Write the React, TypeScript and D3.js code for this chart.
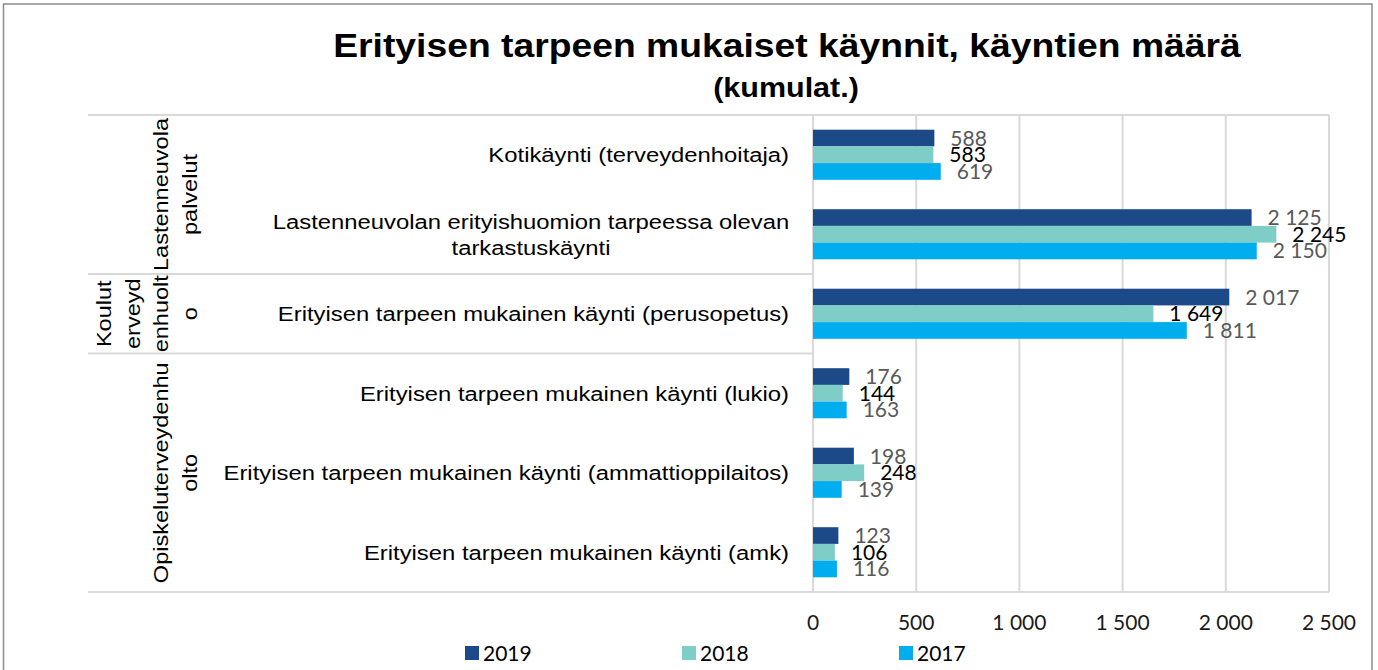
import React from "react";
import * as d3 from "d3";

// ---- data ----
const categories: string[] = [
  "Kotikäynti (terveydenhoitaja)",
  "Lastenneuvolan erityishuomion tarpeessa olevan\ntarkastuskäynti",
  "Erityisen tarpeen mukainen käynti (perusopetus)",
  "Erityisen tarpeen mukainen käynti (lukio)",
  "Erityisen tarpeen mukainen käynti (ammattioppilaitos)",
  "Erityisen tarpeen mukainen käynti (amk)",
];
const groupNames: string[][] = [
  ["Lastenneuvola", "palvelut"],
  ["Koulut", "erveyd", "enhuolt", "o"],
  ["Opiskeluterveydenhu", "olto"],
];
const groupSpans: number[][] = [
  [0, 1],
  [2, 2],
  [3, 5],
];
const seriesNames: string[] = ["2019", "2018", "2017"];
const v2019: number[] = [588, 2125, 2017, 176, 198, 123];
const v2018: number[] = [583, 2245, 1649, 144, 248, 106];
const v2017: number[] = [619, 2150, 1811, 163, 139, 116];
const seriesValues: number[][] = [v2019, v2018, v2017];
const xTicks: number[] = [0, 500, 1000, 1500, 2000, 2500];
const titleLine1 = "Erityisen tarpeen mukaiset käynnit, käyntien määrä";
const titleLine2 = "(kumulat.)";

// ---- style ----
const colors = ["#1C4A89", "#7FCDC7", "#00AEEF"];
const labelColors = ["#595959", "#000000", "#595959"];
const ARIAL = "'Liberation Sans', Arial, sans-serif";
const CAL = "Lato, 'Open Sans', sans-serif";
const STRETCH = 1.135;
const GRID = "#D9D9D9";

const W = 1378;
const H = 670;
const plotLeft = 813;
const plotRight = 1329;
const plotTop = 115;
const plotBottom = 592;
const tableLeft = 88;

const fmt = d3.formatLocale({
  decimal: ",",
  thousands: " ",
  grouping: [3],
  currency: ["", " €"],
}).format(",d");

export default function App() {
  const x = d3.scaleLinear().domain([0, 2500]).range([plotLeft, plotRight]);
  const y = d3
    .scaleBand<number>()
    .domain(categories.map((_, i) => i))
    .range([plotTop, plotBottom])
    .paddingInner(0.37)
    .paddingOuter(0.185);
  const step = y.step();
  const yRow = (i: number) => plotTop + step * i;
  const ySeries = d3
    .scaleBand<number>()
    .domain(seriesNames.map((_, i) => i))
    .range([0, y.bandwidth()]);

  return (
    <svg
      width={W}
      height={H}
      style={{ position: "absolute", left: 0, top: 0, background: "#fff" }}
    >
      <rect x={0} y={0} width={W} height={H} fill="#fff" />
      {/* outer border */}
      <rect x={3.5} y={4} width={1368.5} height={720} fill="none" stroke="#8c8c8c" strokeWidth={1.5} />

      {/* title */}
      <text
        transform={`translate(787,57) scale(1.13,1)`}
        textAnchor="middle"
        fontFamily={ARIAL}
        fontWeight="bold"
        fontSize={33}
        fill="#000"
      >
        {titleLine1}
      </text>
      <text
        transform={`translate(786,97) scale(1.13,1)`}
        textAnchor="middle"
        fontFamily={ARIAL}
        fontWeight="bold"
        fontSize={27}
        fill="#000"
      >
        {titleLine2}
      </text>

      {/* gridlines */}
      {xTicks.map((t) => (
        <line key={"g" + t} x1={x(t)} x2={x(t)} y1={plotTop} y2={plotBottom} stroke={GRID} strokeWidth={2} />
      ))}
      {/* plot border top/bottom and table separators */}
      <line x1={tableLeft} x2={plotRight} y1={plotTop} y2={plotTop} stroke={GRID} strokeWidth={2} />
      <line x1={tableLeft} x2={plotRight} y1={plotBottom} y2={plotBottom} stroke={GRID} strokeWidth={2} />
      {groupSpans.slice(1).map((g, i) => (
        <line key={"sep" + i} x1={tableLeft} x2={plotLeft} y1={yRow(g[0])} y2={yRow(g[0])} stroke={GRID} strokeWidth={2} />
      ))}

      {/* bars */}
      {seriesValues.map((vals, s) =>
        vals.map((v, i) => (
          <rect
            key={`b${s}-${i}`}
            x={x(0)}
            y={(y(i) as number) + (ySeries(s) as number)}
            width={x(v) - x(0)}
            height={ySeries.bandwidth()}
            fill={colors[s]}
          />
        ))
      )}
      {/* value labels */}
      {seriesValues.map((vals, s) =>
        vals.map((v, i) => (
          <text
            key={`l${s}-${i}`}
            x={x(v) + 16}
            y={(y(i) as number) + (ySeries(s) as number) + ySeries.bandwidth() / 2 + 7.5}
            fontFamily={CAL}
            fontSize={21}
            fill={labelColors[s]}
          >
            {fmt(v)}
          </text>
        ))
      )}

      {/* category labels */}
      {categories.map((c, i) => {
        const lines = c.split("\n");
        const cy = yRow(i) + step / 2;
        const lh = 26;
        return lines.map((ln, k) => {
          const by = cy + (k - (lines.length - 1) / 2) * lh + 7.5;
          if (lines.length > 1) {
            return (
              <text
                key={`c${i}-${k}`}
                transform={`translate(531,${by}) scale(${STRETCH},1)`}
                textAnchor="middle"
                fontFamily={ARIAL}
                fontSize={21}
                fill="#000"
              >
                {ln}
              </text>
            );
          }
          return (
            <text
              key={`c${i}-${k}`}
              transform={`translate(789,${by}) scale(${STRETCH},1)`}
              textAnchor="end"
              fontFamily={ARIAL}
              fontSize={21}
              fill="#000"
            >
              {ln}
            </text>
          );
        });
      })}

      {/* group labels (rotated) */}
      {groupNames.map((lines, g) => {
        const [a, b] = groupSpans[g];
        const cy = (yRow(a) + yRow(b + 1)) / 2;
        return lines.map((ln, k) => {
          const bx = 197 - (lines.length - 1 - k) * 28.7;
          return (
            <text
              key={`g${g}-${k}`}
              transform={`translate(${bx},${cy}) rotate(-90) scale(1.12,1)`}
              textAnchor="middle"
              fontFamily={ARIAL}
              fontSize={21}
              fill="#000"
            >
              {ln}
            </text>
          );
        });
      })}

      {/* x axis tick labels */}
      {xTicks.map((t) => (
        <text
          key={"t" + t}
          x={x(t)}
          y={630}
          textAnchor="middle"
          fontFamily={CAL}
          fontSize={21}
          fill="#1a1a1a"
        >
          {fmt(t)}
        </text>
      ))}

      {/* legend */}
      {seriesNames.map((n, s) => {
        const lx = 465 + s * 217;
        return (
          <g key={"lg" + n}>
            <rect x={lx} y={646} width={14} height={14} fill={colors[s]} />
            <text x={lx + 18} y={661} fontFamily={CAL} fontSize={21} fill="#000">
              {n}
            </text>
          </g>
        );
      })}
    </svg>
  );
}
